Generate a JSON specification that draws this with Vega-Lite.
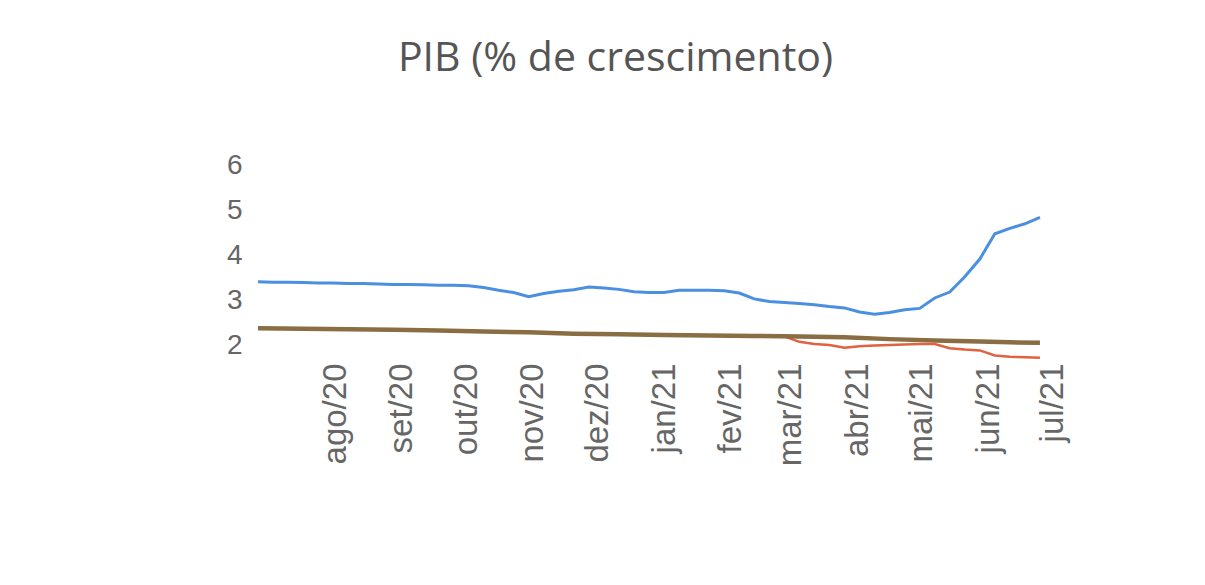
{
  "$schema": "https://vega.github.io/schema/vega-lite/v6.json",
  "width": 797,
  "height": 199,
  "autosize": "none",
  "padding": {"left": 258, "top": 165, "right": 150, "bottom": 221},
  "background": "white",
  "title": {
    "text": "PIB (% de crescimento)",
    "font": "Open Sans",
    "fontSize": 41,
    "fontWeight": "normal",
    "color": "#555555",
    "anchor": "middle",
    "frame": "group",
    "dx": -41,
    "offset": 39,
    "baseline": "alphabetic"
  },
  "config": {"view": {"stroke": null}},
  "datasets": {
    "azul": [
      {"data": "2020-06-26", "v": 3.42},
      {"data": "2020-07-03", "v": 3.41},
      {"data": "2020-07-10", "v": 3.41},
      {"data": "2020-07-17", "v": 3.40},
      {"data": "2020-07-24", "v": 3.39},
      {"data": "2020-07-31", "v": 3.39},
      {"data": "2020-08-07", "v": 3.38},
      {"data": "2020-08-14", "v": 3.38},
      {"data": "2020-08-21", "v": 3.37},
      {"data": "2020-08-28", "v": 3.36},
      {"data": "2020-09-04", "v": 3.36},
      {"data": "2020-09-11", "v": 3.35},
      {"data": "2020-09-18", "v": 3.34},
      {"data": "2020-09-25", "v": 3.34},
      {"data": "2020-10-02", "v": 3.33},
      {"data": "2020-10-09", "v": 3.29},
      {"data": "2020-10-16", "v": 3.23},
      {"data": "2020-10-23", "v": 3.18},
      {"data": "2020-10-30", "v": 3.09},
      {"data": "2020-11-06", "v": 3.16},
      {"data": "2020-11-13", "v": 3.21},
      {"data": "2020-11-20", "v": 3.24},
      {"data": "2020-11-27", "v": 3.30},
      {"data": "2020-12-04", "v": 3.28},
      {"data": "2020-12-11", "v": 3.25},
      {"data": "2020-12-18", "v": 3.20},
      {"data": "2020-12-25", "v": 3.18},
      {"data": "2021-01-01", "v": 3.18},
      {"data": "2021-01-08", "v": 3.23},
      {"data": "2021-01-15", "v": 3.23},
      {"data": "2021-01-22", "v": 3.23},
      {"data": "2021-01-29", "v": 3.22},
      {"data": "2021-02-05", "v": 3.17},
      {"data": "2021-02-12", "v": 3.04},
      {"data": "2021-02-19", "v": 2.98},
      {"data": "2021-02-26", "v": 2.96},
      {"data": "2021-03-05", "v": 2.94},
      {"data": "2021-03-12", "v": 2.91},
      {"data": "2021-03-19", "v": 2.87},
      {"data": "2021-03-26", "v": 2.84},
      {"data": "2021-04-02", "v": 2.75},
      {"data": "2021-04-09", "v": 2.70},
      {"data": "2021-04-16", "v": 2.74},
      {"data": "2021-04-23", "v": 2.80},
      {"data": "2021-04-30", "v": 2.83},
      {"data": "2021-05-07", "v": 3.06},
      {"data": "2021-05-14", "v": 3.19},
      {"data": "2021-05-21", "v": 3.53},
      {"data": "2021-05-28", "v": 3.92},
      {"data": "2021-06-04", "v": 4.48},
      {"data": "2021-06-11", "v": 4.60},
      {"data": "2021-06-18", "v": 4.70},
      {"data": "2021-06-25", "v": 4.84}
    ],
    "marrom": [
      {"data": "2020-06-26", "v": 2.39},
      {"data": "2020-07-17", "v": 2.38},
      {"data": "2020-08-07", "v": 2.37},
      {"data": "2020-08-28", "v": 2.36},
      {"data": "2020-09-18", "v": 2.34},
      {"data": "2020-10-09", "v": 2.32},
      {"data": "2020-10-30", "v": 2.30},
      {"data": "2020-11-20", "v": 2.27},
      {"data": "2020-12-11", "v": 2.26},
      {"data": "2021-01-01", "v": 2.24},
      {"data": "2021-01-22", "v": 2.23},
      {"data": "2021-02-12", "v": 2.22},
      {"data": "2021-03-05", "v": 2.21},
      {"data": "2021-03-26", "v": 2.19},
      {"data": "2021-04-16", "v": 2.15},
      {"data": "2021-05-07", "v": 2.12},
      {"data": "2021-05-28", "v": 2.10},
      {"data": "2021-06-11", "v": 2.08},
      {"data": "2021-06-25", "v": 2.07}
    ],
    "vermelho": [
      {"data": "2021-02-26", "v": 2.21},
      {"data": "2021-03-05", "v": 2.09},
      {"data": "2021-03-12", "v": 2.04},
      {"data": "2021-03-19", "v": 2.02},
      {"data": "2021-03-26", "v": 1.96},
      {"data": "2021-04-02", "v": 1.99},
      {"data": "2021-04-09", "v": 2.01},
      {"data": "2021-04-16", "v": 2.02},
      {"data": "2021-04-23", "v": 2.03},
      {"data": "2021-04-30", "v": 2.04},
      {"data": "2021-05-07", "v": 2.04},
      {"data": "2021-05-14", "v": 1.95},
      {"data": "2021-05-21", "v": 1.92},
      {"data": "2021-05-28", "v": 1.90},
      {"data": "2021-06-04", "v": 1.79},
      {"data": "2021-06-11", "v": 1.76},
      {"data": "2021-06-18", "v": 1.75},
      {"data": "2021-06-25", "v": 1.74}
    ]
  },
  "encoding": {
    "x": {
      "field": "data",
      "type": "temporal",
      "title": null,
      "scale": {
        "type": "utc",
        "domain": [
          {"year": 2020, "month": 6, "date": 26, "utc": true},
          {"year": 2021, "month": 7, "date": 2, "utc": true}
        ]
      },
      "axis": {
        "values": [
          {"year": 2020, "month": 8, "date": 1, "utc": true},
          {"year": 2020, "month": 9, "date": 1, "utc": true},
          {"year": 2020, "month": 10, "date": 1, "utc": true},
          {"year": 2020, "month": 11, "date": 1, "utc": true},
          {"year": 2020, "month": 12, "date": 1, "utc": true},
          {"year": 2021, "month": 1, "date": 1, "utc": true},
          {"year": 2021, "month": 2, "date": 1, "utc": true},
          {"year": 2021, "month": 3, "date": 1, "utc": true},
          {"year": 2021, "month": 4, "date": 1, "utc": true},
          {"year": 2021, "month": 5, "date": 1, "utc": true},
          {"year": 2021, "month": 6, "date": 1, "utc": true},
          {"year": 2021, "month": 7, "date": 1, "utc": true}
        ],
        "labelExpr": "['jan','fev','mar','abr','mai','jun','jul','ago','set','out','nov','dez'][utcmonth(datum.value)] + '/' + utcFormat(datum.value, '%y')",
        "labelAngle": -90,
        "labelFont": "Liberation Sans",
        "labelFontSize": 33,
        "labelColor": "#666666",
        "labelPadding": -1,
        "labelOverlap": false,
        "labelFlush": false,
        "domain": false,
        "ticks": false,
        "tickSize": 0,
        "grid": false
      }
    },
    "y": {
      "field": "v",
      "type": "quantitative",
      "title": null,
      "scale": {"domain": [1.6, 6], "nice": false, "zero": false},
      "axis": {
        "values": [2, 3, 4, 5, 6],
        "labelFont": "Liberation Sans",
        "labelFontSize": 28,
        "labelColor": "#666666",
        "labelPadding": 16,
        "domain": false,
        "ticks": false,
        "tickSize": 0,
        "grid": false
      }
    }
  },
  "layer": [
    {
      "data": {"name": "vermelho"},
      "mark": {"type": "line", "color": "#e0623e", "strokeWidth": 2.5, "interpolate": "linear"}
    },
    {
      "data": {"name": "marrom"},
      "mark": {"type": "line", "color": "#8a6d42", "strokeWidth": 4.5}
    },
    {
      "data": {"name": "azul"},
      "mark": {"type": "line", "color": "#4a8fe0", "strokeWidth": 3}
    }
  ]
}
